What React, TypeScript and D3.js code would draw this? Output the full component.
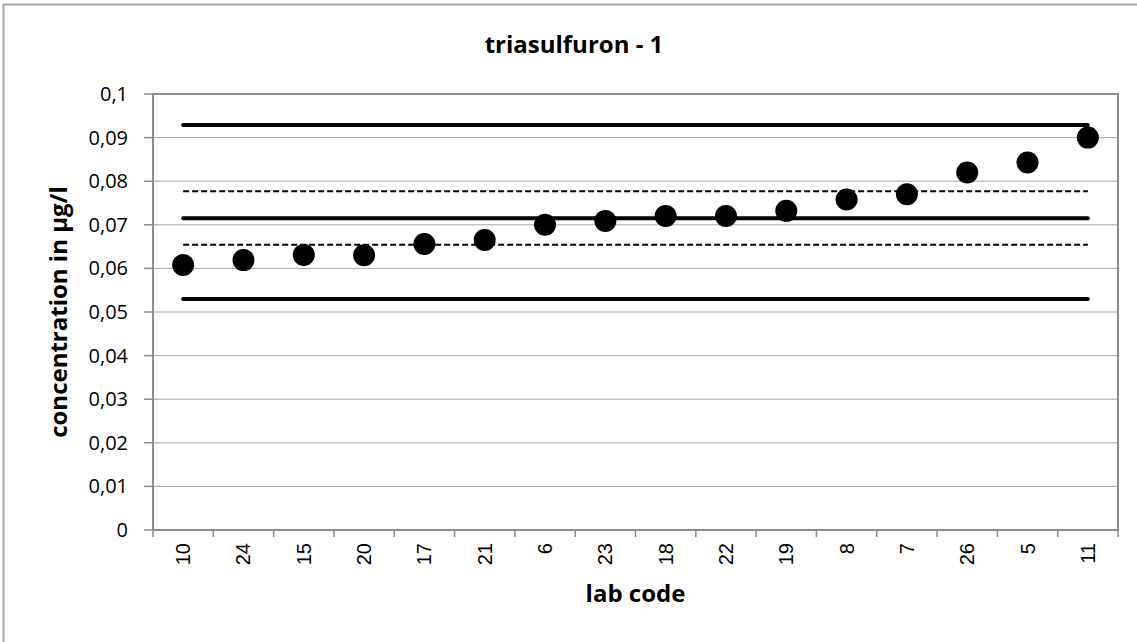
import React from "react";
import * as d3 from "d3";

const labCodes = ["10", "24", "15", "20", "17", "21", "6", "23", "18", "22", "19", "8", "7", "26", "5", "11"];
const concentrations = [0.0608, 0.0619, 0.0631, 0.0630, 0.0656, 0.0665, 0.0700, 0.0709, 0.0720, 0.0720, 0.0732, 0.0758, 0.0770, 0.0820, 0.0843, 0.0900];
const yTickValues = [0, 0.01, 0.02, 0.03, 0.04, 0.05, 0.06, 0.07, 0.08, 0.09, 0.1];
const yTickLabels = ["0", "0,01", "0,02", "0,03", "0,04", "0,05", "0,06", "0,07", "0,08", "0,09", "0,1"];
const solidLimits = [0.0530, 0.0715, 0.0929];
const dashedLimits = [0.0654, 0.0777];

const W = 1137;
const H = 642;
const M = { left: 153, right: 1118, top: 94, bottom: 530 };

export default function App() {
  const x = d3.scaleBand<string>().domain(labCodes).range([M.left, M.right]);
  const y = d3.scaleLinear().domain([0, 0.1]).range([M.bottom, M.top]);
  const bw = x.bandwidth();
  const first = (x(labCodes[0]) as number) + bw / 2;
  const last = (x(labCodes[labCodes.length - 1]) as number) + bw / 2;
  const lineGen = d3.line<number>().x((d) => d).y(() => 0);
  const boundaries = labCodes.map((c) => x(c) as number).concat([M.right]);
  const font = "'Open Sans', Calibri, sans-serif";

  return (
    <svg width={W} height={H} style={{ position: "fixed", left: 0, top: 0, background: "#fff" }}>
      <rect x={3.5} y={4.5} width={W + 10} height={H + 10} fill="#fff" stroke="#a6a6a6" strokeWidth={2} />
      <text x={574} y={53} textAnchor="middle" fontFamily={font} fontWeight="bold" fontSize={24} fill="#000">
        triasulfuron - 1
      </text>
      {/* gridlines */}
      {yTickValues.map((v) => (
        <line key={"g" + v} x1={M.left} x2={M.right} y1={y(v)} y2={y(v)} stroke="#a6a6a6" strokeWidth={1} />
      ))}
      {/* plot border */}
      <rect x={M.left} y={M.top} width={M.right - M.left} height={M.bottom - M.top} fill="none" stroke="#8c8c8c" strokeWidth={2} />
      {/* y ticks */}
      {yTickValues.map((v, i) => (
        <g key={"yt" + v}>
          <line x1={M.left - 9} x2={M.left} y1={y(v)} y2={y(v)} stroke="#8c8c8c" strokeWidth={1.5} />
          <text x={128} y={y(v)} dy="0.35em" textAnchor="end" fontFamily={font} fontSize={20} fill="#000">
            {yTickLabels[i]}
          </text>
        </g>
      ))}
      {/* x ticks */}
      {boundaries.map((b, i) => (
        <line key={"xt" + i} x1={b} x2={b} y1={M.bottom} y2={M.bottom + 7} stroke="#8c8c8c" strokeWidth={1.5} />
      ))}
      {labCodes.map((c) => (
        <text
          key={"xl" + c}
          transform={`translate(${(x(c) as number) + bw / 2},${543}) rotate(-90)`}
          dy="0.35em"
          textAnchor="end"
          fontFamily="'Liberation Sans', Arial, sans-serif"
          fontSize={20}
          fill="#000"
        >
          {c}
        </text>
      ))}
      {/* limit lines */}
      {solidLimits.map((v) => (
        <path
          key={"s" + v}
          d={lineGen([first, last]) as string}
          transform={`translate(0,${y(v)})`}
          stroke="#000"
          strokeWidth={4}
          strokeLinecap="round"
          fill="none"
        />
      ))}
      {dashedLimits.map((v) => (
        <path
          key={"d" + v}
          d={lineGen([first, last]) as string}
          transform={`translate(0,${y(v)})`}
          stroke="#000"
          strokeWidth={2}
          strokeDasharray="6,3"
          fill="none"
        />
      ))}
      {/* points */}
      {labCodes.map((c, i) => (
        <circle key={"p" + c} cx={(x(c) as number) + bw / 2} cy={y(concentrations[i])} r={11} fill="#000" />
      ))}
      <text x={(M.left + M.right) / 2} y={602} textAnchor="middle" fontFamily={font} fontWeight="bold" fontSize={24} fill="#000">
        lab code
      </text>
      <text
        transform={`translate(67,${(M.top + M.bottom) / 2}) rotate(-90)`}
        textAnchor="middle"
        fontFamily={font}
        fontWeight="bold"
        fontSize={24}
        fill="#000"
      >
        concentration in µg/l
      </text>
    </svg>
  );
}
